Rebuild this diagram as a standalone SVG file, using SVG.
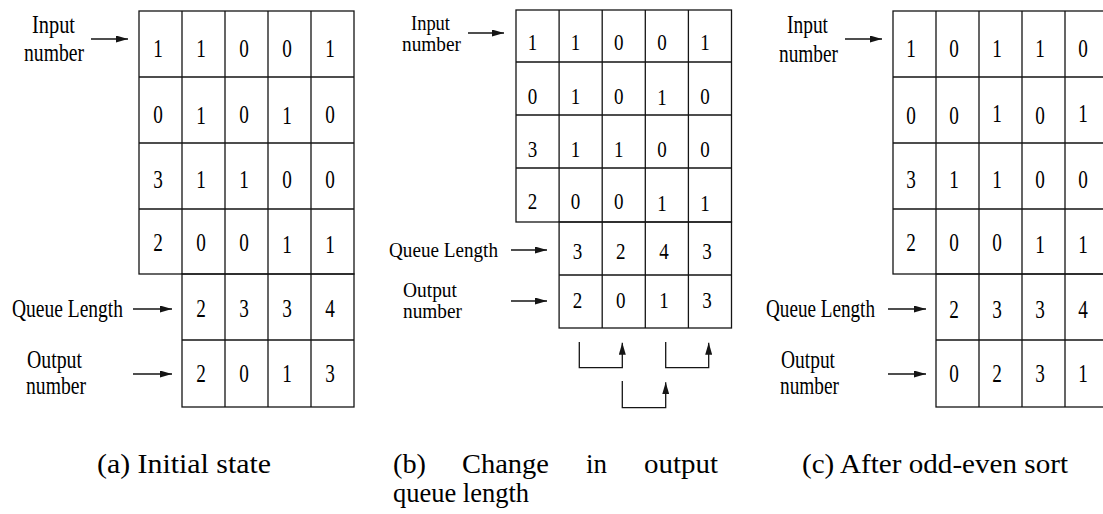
<svg xmlns="http://www.w3.org/2000/svg" width="1103" height="514" viewBox="0 0 1103 514">
  <style>
    .grid { fill: none; stroke: #151515; stroke-width: 1.3; }
    .wire { fill: none; stroke: #151515; stroke-width: 1.3; marker-end: url(#ah); }
    .d { font-family: "Liberation Serif", "Times New Roman", serif; font-size: 26px; text-anchor: middle; fill: #000; }
    .d.s { font-size: 23px; }
    .lab { font-family: "Liberation Serif", "Times New Roman", serif; font-size: 25px; fill: #000; }
    .lab.s { font-size: 22px; }
    .cap { font-family: "Liberation Serif", "Times New Roman", serif; font-size: 27px; fill: #000; }
  </style>
  <defs>
    <marker id="ah" viewBox="0 0 12 7" markerWidth="12" markerHeight="7" refX="12" refY="3.5" orient="auto" markerUnits="userSpaceOnUse">
      <path d="M0,0 L12,3.5 L0,7 z" fill="#151515"/>
    </marker>
  </defs>
  <rect width="1103" height="514" fill="#fff"/>

  <!-- (a) initial state -->
  <g id="table-a">
    <rect class="grid" x="139" y="11" width="215" height="263"/>
    <rect class="grid" x="182" y="274" width="172" height="133"/>
    <path class="grid" d="M139,77 H354 M139,143 H354 M139,209 H354 M182,340 H354 M182,11 V274 M225,11 V407 M268,11 V407 M311,11 V407"/>
    <text class="d" x="158" y="57" textLength="9.6" lengthAdjust="spacingAndGlyphs">1</text>
    <text class="d" x="201" y="57" textLength="9.6" lengthAdjust="spacingAndGlyphs">1</text>
    <text class="d" x="244" y="57" textLength="9.6" lengthAdjust="spacingAndGlyphs">0</text>
    <text class="d" x="287" y="57" textLength="9.6" lengthAdjust="spacingAndGlyphs">0</text>
    <text class="d" x="330" y="57" textLength="9.6" lengthAdjust="spacingAndGlyphs">1</text>
    <text class="d" x="158" y="123" textLength="9.6" lengthAdjust="spacingAndGlyphs">0</text>
    <text class="d" x="201" y="124" textLength="9.6" lengthAdjust="spacingAndGlyphs">1</text>
    <text class="d" x="244" y="123" textLength="9.6" lengthAdjust="spacingAndGlyphs">0</text>
    <text class="d" x="287" y="124" textLength="9.6" lengthAdjust="spacingAndGlyphs">1</text>
    <text class="d" x="330" y="123" textLength="9.6" lengthAdjust="spacingAndGlyphs">0</text>
    <text class="d" x="158" y="188" textLength="9.6" lengthAdjust="spacingAndGlyphs">3</text>
    <text class="d" x="201" y="188" textLength="9.6" lengthAdjust="spacingAndGlyphs">1</text>
    <text class="d" x="244" y="188" textLength="9.6" lengthAdjust="spacingAndGlyphs">1</text>
    <text class="d" x="287" y="188" textLength="9.6" lengthAdjust="spacingAndGlyphs">0</text>
    <text class="d" x="330" y="188" textLength="9.6" lengthAdjust="spacingAndGlyphs">0</text>
    <text class="d" x="158" y="251" textLength="9.6" lengthAdjust="spacingAndGlyphs">2</text>
    <text class="d" x="201" y="251" textLength="9.6" lengthAdjust="spacingAndGlyphs">0</text>
    <text class="d" x="244" y="251" textLength="9.6" lengthAdjust="spacingAndGlyphs">0</text>
    <text class="d" x="287" y="253" textLength="9.6" lengthAdjust="spacingAndGlyphs">1</text>
    <text class="d" x="330" y="253" textLength="9.6" lengthAdjust="spacingAndGlyphs">1</text>
    <text class="d" x="201" y="317" textLength="9.6" lengthAdjust="spacingAndGlyphs">2</text>
    <text class="d" x="244" y="317" textLength="9.6" lengthAdjust="spacingAndGlyphs">3</text>
    <text class="d" x="287" y="317" textLength="9.6" lengthAdjust="spacingAndGlyphs">3</text>
    <text class="d" x="330" y="317" textLength="9.6" lengthAdjust="spacingAndGlyphs">4</text>
    <text class="d" x="201" y="382" textLength="9.6" lengthAdjust="spacingAndGlyphs">2</text>
    <text class="d" x="244" y="382" textLength="9.6" lengthAdjust="spacingAndGlyphs">0</text>
    <text class="d" x="287" y="382" textLength="9.6" lengthAdjust="spacingAndGlyphs">1</text>
    <text class="d" x="330" y="382" textLength="9.6" lengthAdjust="spacingAndGlyphs">3</text>
  </g>
  <g id="label-a-input">
    <text class="lab" x="32" y="33" textLength="43" lengthAdjust="spacingAndGlyphs">Input</text>
    <text class="lab" x="24" y="61" textLength="60" lengthAdjust="spacingAndGlyphs">number</text>
  </g>
  <g id="label-a-queue">
    <text class="lab" x="12" y="317" textLength="111" lengthAdjust="spacingAndGlyphs">Queue Length</text>
  </g>
  <g id="label-a-output">
    <text class="lab" x="27" y="368" textLength="55" lengthAdjust="spacingAndGlyphs">Output</text>
    <text class="lab" x="26" y="394" textLength="60" lengthAdjust="spacingAndGlyphs">number</text>
  </g>

  <!-- (b) change in output queue length -->
  <g id="table-b">
    <rect class="grid" x="516" y="10" width="215.5" height="212"/>
    <rect class="grid" x="559.1" y="222" width="172.4" height="106"/>
    <path class="grid" d="M516,62 H731.5 M516,115 H731.5 M516,168 H731.5 M559.1,275 H731.5 M559.1,10 V222 M602.2,10 V328 M645.3,10 V328 M688.4,10 V328"/>
    <text class="d s" x="532.5" y="49.5" textLength="9.5" lengthAdjust="spacingAndGlyphs">1</text>
    <text class="d s" x="575.6" y="49.5" textLength="9.5" lengthAdjust="spacingAndGlyphs">1</text>
    <text class="d s" x="618.8" y="49.5" textLength="9.5" lengthAdjust="spacingAndGlyphs">0</text>
    <text class="d s" x="661.9" y="49.5" textLength="9.5" lengthAdjust="spacingAndGlyphs">0</text>
    <text class="d s" x="705" y="49.5" textLength="9.5" lengthAdjust="spacingAndGlyphs">1</text>
    <text class="d s" x="532.5" y="104" textLength="9.5" lengthAdjust="spacingAndGlyphs">0</text>
    <text class="d s" x="575.6" y="104" textLength="9.5" lengthAdjust="spacingAndGlyphs">1</text>
    <text class="d s" x="618.8" y="104" textLength="9.5" lengthAdjust="spacingAndGlyphs">0</text>
    <text class="d s" x="661.9" y="105" textLength="9.5" lengthAdjust="spacingAndGlyphs">1</text>
    <text class="d s" x="705" y="104" textLength="9.5" lengthAdjust="spacingAndGlyphs">0</text>
    <text class="d s" x="532.5" y="156.5" textLength="9.5" lengthAdjust="spacingAndGlyphs">3</text>
    <text class="d s" x="575.6" y="156.5" textLength="9.5" lengthAdjust="spacingAndGlyphs">1</text>
    <text class="d s" x="618.8" y="156.5" textLength="9.5" lengthAdjust="spacingAndGlyphs">1</text>
    <text class="d s" x="661.9" y="156.5" textLength="9.5" lengthAdjust="spacingAndGlyphs">0</text>
    <text class="d s" x="705" y="156.5" textLength="9.5" lengthAdjust="spacingAndGlyphs">0</text>
    <text class="d s" x="532.5" y="208.5" textLength="9.5" lengthAdjust="spacingAndGlyphs">2</text>
    <text class="d s" x="575.6" y="208.5" textLength="9.5" lengthAdjust="spacingAndGlyphs">0</text>
    <text class="d s" x="618.8" y="208.5" textLength="9.5" lengthAdjust="spacingAndGlyphs">0</text>
    <text class="d s" x="661.9" y="211" textLength="9.5" lengthAdjust="spacingAndGlyphs">1</text>
    <text class="d s" x="705" y="211" textLength="9.5" lengthAdjust="spacingAndGlyphs">1</text>
    <text class="d s" x="577.6" y="258.5" textLength="9.5" lengthAdjust="spacingAndGlyphs">3</text>
    <text class="d s" x="620.8" y="258.5" textLength="9.5" lengthAdjust="spacingAndGlyphs">2</text>
    <text class="d s" x="663.9" y="258.5" textLength="9.5" lengthAdjust="spacingAndGlyphs">4</text>
    <text class="d s" x="707" y="258.5" textLength="9.5" lengthAdjust="spacingAndGlyphs">3</text>
    <text class="d s" x="577.6" y="308" textLength="9.5" lengthAdjust="spacingAndGlyphs">2</text>
    <text class="d s" x="620.8" y="308" textLength="9.5" lengthAdjust="spacingAndGlyphs">0</text>
    <text class="d s" x="663.9" y="308" textLength="9.5" lengthAdjust="spacingAndGlyphs">1</text>
    <text class="d s" x="707" y="308" textLength="9.5" lengthAdjust="spacingAndGlyphs">3</text>
  </g>
  <g id="label-b-input">
    <text class="lab s" x="411" y="30" textLength="39" lengthAdjust="spacingAndGlyphs">Input</text>
    <text class="lab s" x="402" y="51" textLength="59" lengthAdjust="spacingAndGlyphs">number</text>
  </g>
  <g id="label-b-queue">
    <text class="lab s" x="389" y="257" textLength="109" lengthAdjust="spacingAndGlyphs">Queue Length</text>
  </g>
  <g id="label-b-output">
    <text class="lab s" x="403" y="297" textLength="54" lengthAdjust="spacingAndGlyphs">Output</text>
    <text class="lab s" x="403" y="318" textLength="59" lengthAdjust="spacingAndGlyphs">number</text>
  </g>

  <!-- (c) after odd-even sort -->
  <g id="table-c">
    <rect class="grid" x="893" y="11" width="215" height="263"/>
    <rect class="grid" x="936" y="274" width="172" height="133"/>
    <path class="grid" d="M893,77 H1108 M893,143 H1108 M893,209 H1108 M936,340 H1108 M936,11 V274 M979,11 V407 M1022,11 V407 M1065,11 V407"/>
    <text class="d" x="911" y="57" textLength="9.6" lengthAdjust="spacingAndGlyphs">1</text>
    <text class="d" x="954" y="57" textLength="9.6" lengthAdjust="spacingAndGlyphs">0</text>
    <text class="d" x="997" y="57" textLength="9.6" lengthAdjust="spacingAndGlyphs">1</text>
    <text class="d" x="1040" y="57" textLength="9.6" lengthAdjust="spacingAndGlyphs">1</text>
    <text class="d" x="1083" y="57" textLength="9.6" lengthAdjust="spacingAndGlyphs">0</text>
    <text class="d" x="911" y="124" textLength="9.6" lengthAdjust="spacingAndGlyphs">0</text>
    <text class="d" x="954" y="124" textLength="9.6" lengthAdjust="spacingAndGlyphs">0</text>
    <text class="d" x="997" y="122" textLength="9.6" lengthAdjust="spacingAndGlyphs">1</text>
    <text class="d" x="1040" y="124" textLength="9.6" lengthAdjust="spacingAndGlyphs">0</text>
    <text class="d" x="1083" y="122" textLength="9.6" lengthAdjust="spacingAndGlyphs">1</text>
    <text class="d" x="911" y="188" textLength="9.6" lengthAdjust="spacingAndGlyphs">3</text>
    <text class="d" x="954" y="188" textLength="9.6" lengthAdjust="spacingAndGlyphs">1</text>
    <text class="d" x="997" y="188" textLength="9.6" lengthAdjust="spacingAndGlyphs">1</text>
    <text class="d" x="1040" y="188" textLength="9.6" lengthAdjust="spacingAndGlyphs">0</text>
    <text class="d" x="1083" y="188" textLength="9.6" lengthAdjust="spacingAndGlyphs">0</text>
    <text class="d" x="911" y="251" textLength="9.6" lengthAdjust="spacingAndGlyphs">2</text>
    <text class="d" x="954" y="251" textLength="9.6" lengthAdjust="spacingAndGlyphs">0</text>
    <text class="d" x="997" y="251" textLength="9.6" lengthAdjust="spacingAndGlyphs">0</text>
    <text class="d" x="1040" y="253" textLength="9.6" lengthAdjust="spacingAndGlyphs">1</text>
    <text class="d" x="1083" y="253" textLength="9.6" lengthAdjust="spacingAndGlyphs">1</text>
    <text class="d" x="954" y="318" textLength="9.6" lengthAdjust="spacingAndGlyphs">2</text>
    <text class="d" x="997" y="318" textLength="9.6" lengthAdjust="spacingAndGlyphs">3</text>
    <text class="d" x="1040" y="318" textLength="9.6" lengthAdjust="spacingAndGlyphs">3</text>
    <text class="d" x="1083" y="318" textLength="9.6" lengthAdjust="spacingAndGlyphs">4</text>
    <text class="d" x="954" y="382" textLength="9.6" lengthAdjust="spacingAndGlyphs">0</text>
    <text class="d" x="997" y="382" textLength="9.6" lengthAdjust="spacingAndGlyphs">2</text>
    <text class="d" x="1040" y="382" textLength="9.6" lengthAdjust="spacingAndGlyphs">3</text>
    <text class="d" x="1083" y="382" textLength="9.6" lengthAdjust="spacingAndGlyphs">1</text>
  </g>
  <g id="label-c-input">
    <text class="lab" x="787" y="33" textLength="41" lengthAdjust="spacingAndGlyphs">Input</text>
    <text class="lab" x="779" y="62" textLength="59" lengthAdjust="spacingAndGlyphs">number</text>
  </g>
  <g id="label-c-queue">
    <text class="lab" x="766" y="317" textLength="109" lengthAdjust="spacingAndGlyphs">Queue Length</text>
  </g>
  <g id="label-c-output">
    <text class="lab" x="781" y="368" textLength="54" lengthAdjust="spacingAndGlyphs">Output</text>
    <text class="lab" x="780" y="394" textLength="59" lengthAdjust="spacingAndGlyphs">number</text>
  </g>

  <!-- pointer arrows and swap brackets -->
  <g id="connectors">
    <path class="wire" d="M91,39 H128"/>
    <path class="wire" d="M133,309 H172"/>
    <path class="wire" d="M133,374 H172"/>
    <path class="wire" d="M468,33 H504"/>
    <path class="wire" d="M511,250 H547"/>
    <path class="wire" d="M511,301 H547"/>
    <path class="wire" d="M579.3,342 V367.7 H622.3 V342.7"/>
    <path class="wire" d="M665.7,342 V367.7 H708.7 V342.7"/>
    <path class="wire" d="M622.3,381 V407.7 H665.7 V382.3"/>
    <path class="wire" d="M845,39 H882"/>
    <path class="wire" d="M888,309 H926"/>
    <path class="wire" d="M888,374 H926"/>
  </g>

  <!-- subfigure captions -->
  <g id="captions">
    <text class="cap" x="97" y="473" textLength="174" lengthAdjust="spacingAndGlyphs">(a) Initial state</text>
    <text class="cap" x="393" y="473" textLength="33" lengthAdjust="spacingAndGlyphs">(b)</text>
    <text class="cap" x="462" y="473" textLength="87" lengthAdjust="spacingAndGlyphs">Change</text>
    <text class="cap" x="586" y="473" textLength="21" lengthAdjust="spacingAndGlyphs">in</text>
    <text class="cap" x="644" y="473" textLength="74" lengthAdjust="spacingAndGlyphs">output</text>
    <text class="cap" x="393" y="502" textLength="136" lengthAdjust="spacingAndGlyphs">queue length</text>
    <text class="cap" x="802" y="473" textLength="266" lengthAdjust="spacingAndGlyphs">(c) After odd-even sort</text>
  </g>
</svg>
